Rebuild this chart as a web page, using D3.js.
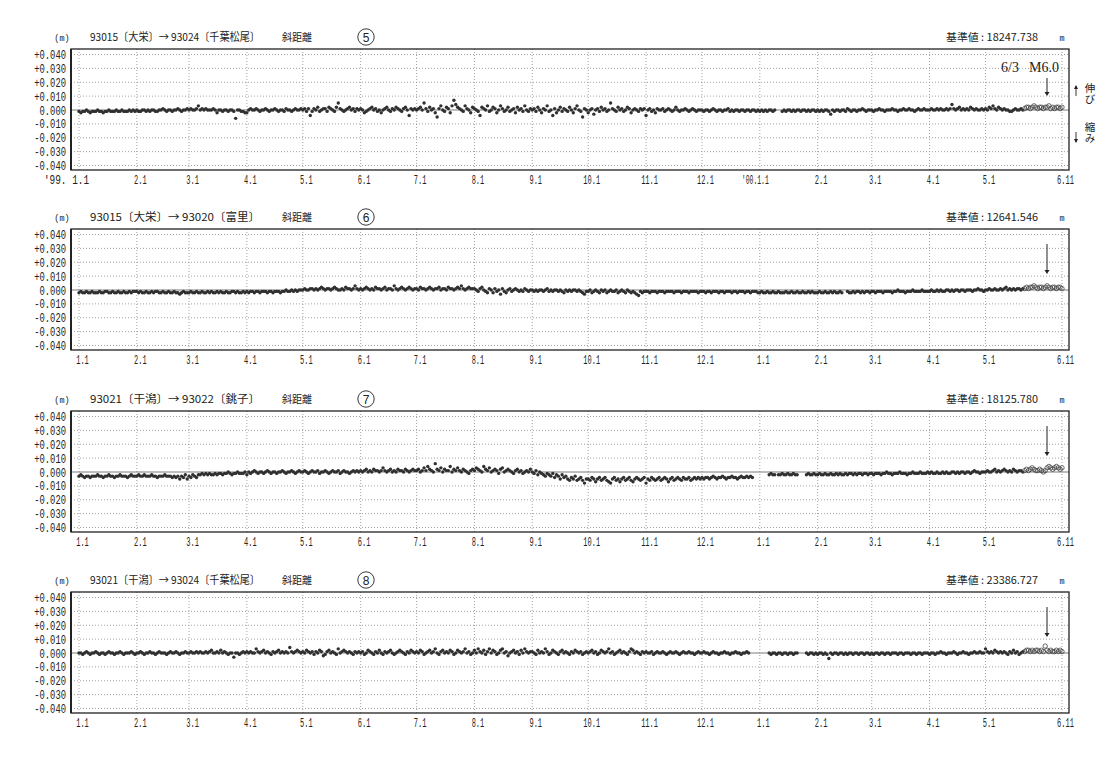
<!DOCTYPE html>
<html><head><meta charset="utf-8">
<script src="https://cdn.jsdelivr.net/npm/d3@7/dist/d3.min.js"></script>
<style>body{margin:0;background:#fff}svg{display:block}</style>
</head><body>
<svg id="chart" width="1119" height="777"></svg>
<script>
// ---------- DATA (daily slope-distance change in mm, one array per month, Jan 1999 .. May 21 2000) ----------
const p5 = [
[-1,-2,-1,-1,0,-1,-2,-1,-1,-1,0,-1,-1,-2,-1,-1,0,-1,-1,-1,0,-1,-1,0,-1,-1,-1,0,-1,0,-1],
[0,-1,-1,0,0,-1,0,-1,0,0,-1,-1,0,0,1,0,-1,0,0,-1,0,0,1,0,-1,0,0,1],
[0,1,0,0,1,3,0,1,0,1,0,0,0,1,0,-2,0,0,-1,0,0,-1,0,0,-1,-6,0,0,-1,-1,-2],
[-2,0,1,0,0,1,0,-1,0,0,1,0,-1,0,0,1,0,-1,0,0,-1,1,0,0,-1,0,1,0,0,1],
[0,1,-1,1,-4,-1,1,0,2,-1,0,1,1,-1,2,1,0,-1,2,5,1,0,-1,0,1,2,0,1,-1,1,0],
[1,0,-2,-1,0,1,2,0,1,-1,0,-2,0,1,2,0,-1,1,0,2,1,0,-1,1,2,0,-4,1,0,1],
[0,1,2,0,5,1,-1,2,0,1,-2,-5,1,3,0,-1,2,1,-2,3,7,4,2,1,0,-1,3,1,0,-2,2],
[1,0,-1,-4,2,1,0,3,-1,0,2,1,-2,0,3,1,-1,0,2,-1,0,1,-2,2,0,1,-1,3,0,-1,1],
[0,1,-1,2,0,-2,1,0,3,-1,0,-4,1,-2,0,2,-1,1,0,-1,2,0,-2,1,3,0,-1,-5,1,0],
[-2,0,1,-3,0,1,-1,2,0,1,-1,0,5,1,0,-1,2,0,1,-1,0,2,1,-2,0,1,0,-1,1,0,1],
[-4,0,1,-1,0,-2,1,0,0,1,-1,0,1,0,-1,0,2,0,-1,0,0,1,0,-1,0,1,0,-1,0,0],
[0,-1,0,0,-1,0,1,0,-1,0,0,-1,0,0,1,-1,0,-1,0,0,-1,0,0,-1,0,0,-1,0,0,-1,0],
[-1,0,-1,0,-1,0,0,-1,0,null,null,null,-1,0,-1,0,0,-1,0,-1,0,0,-1,0,0,-1,0,-1,0,0,-1],
[0,-1,0,-1,0,0,-1,-3,0,-1,0,0,-1,0,0,-1,1,0,-1,0,0,-1,0,0,1,0,-1,0,0],
[0,-1,0,0,1,0,0,-1,0,0,0,1,0,0,-1,0,0,1,0,0,1,0,0,-1,0,1,0,0,1,0,0],
[0,1,0,0,1,0,1,0,0,1,0,1,4,1,0,1,2,0,1,0,1,0,2,1,0,1,0,0,1,0],
[1,0,2,1,3,1,0,2,1,0,1,0,0,-1,-1,0,1,0,0,1,0]
];
const p6 = [
[-2,-1,-2,-2,-1,-2,-2,-1,-2,-2,-2,-1,-2,-2,-1,-1,-2,-2,-1,-2,-2,-1,-2,-2,-1,-2,-2,-1,-2,-1,-1],
[-1,-2,-1,-2,-2,-1,-2,-2,-1,-2,-1,-1,-2,-2,-1,-2,-2,-1,-2,-2,-1,-2,-2,-3,-2,-1,-2,-2],
[-2,-1,-2,-2,-1,-2,-2,-1,-2,-2,-1,-2,-1,-2,-2,-1,-2,-1,-2,-2,-1,-2,-2,-1,-1,-2,-1,-2,-2,-1,-2],
[-1,-2,-1,-1,-2,-1,-1,-2,-1,-1,-1,-2,-1,-1,-2,-1,-1,-1,-2,-1,-1,0,-1,-1,0,-1,0,-1,0,0],
[0,1,0,0,1,1,0,1,0,1,2,1,0,1,1,0,1,2,1,0,0,1,0,2,1,1,0,1,3,1,0],
[1,0,1,2,1,0,1,0,2,1,1,0,1,2,0,1,1,0,3,1,0,1,2,1,0,1,2,1,0,1],
[1,0,2,1,1,0,1,2,1,0,1,1,2,0,1,1,0,2,1,1,0,1,2,1,3,1,0,1,2,1,1],
[1,0,-1,1,2,0,-1,-2,1,0,-2,1,-1,0,-3,1,-1,-2,0,1,-1,0,1,0,-1,0,-1,1,0,-1,0],
[0,-1,0,-1,0,0,-1,0,1,-1,0,-1,0,0,-1,0,-1,-2,0,-1,0,-1,0,0,-1,0,-1,-2,-3,-1],
[-1,0,-2,-1,0,-1,-2,0,-1,0,-2,-1,0,-1,-1,0,-2,-1,0,-1,-2,0,-1,-2,-1,-2,-3,-4,-1,-2,-1],
[-1,-1,-2,-1,-1,-1,-2,-1,-1,-1,-2,-1,-1,-1,-1,-2,-1,-1,-1,-2,-1,-1,-1,-2,-1,-1,-1,-1,-2,-1],
[-1,-1,-2,-1,-1,-2,-1,-1,-1,-2,-1,-1,-2,-1,-1,-1,-2,-1,-1,-2,-1,-1,-1,-2,-1,-1,-2,-1,-1,-1,-2],
[-2,-1,-2,-2,-1,-2,-2,-1,-2,-2,-1,-2,-2,-2,-1,-2,-2,-1,-2,-2,-1,-2,-2,-1,-2,-2,-1,-2,-1,-2,-2],
[-2,-1,-2,-2,-1,-2,-2,-1,-2,-1,-2,-2,-1,-2,null,null,-1,-2,-2,-1,-2,-1,-1,-2,-1,-2,-1,-1,-2],
[-1,-1,-2,-1,-1,-1,-2,-1,-1,-1,-1,-2,-1,-1,0,-1,-1,-1,-2,-1,-1,-1,0,-1,-1,-1,-1,0,-1,-1,-1],
[-1,0,-1,-1,0,-1,0,-1,-1,0,0,-1,0,-1,0,0,-1,0,0,-1,0,0,0,-1,0,0,1,0,0,-1],
[0,0,1,0,0,1,0,0,1,0,1,2,0,1,0,1,0,1,1,0,1]
];
const p7 = [
[-3,-2,-3,-4,-3,-3,-4,-3,-3,-3,-2,-3,-3,-4,-3,-3,-2,-3,-3,-4,-3,-3,-2,-3,-3,-3,-4,-3,-2,-3,-3],
[-3,-2,-3,-3,-2,-3,-3,-3,-2,-3,-3,-4,-3,-3,-3,-2,-3,-3,-3,-4,-3,-4,-3,-5,-3,-4,-2,-5],
[-3,-4,-2,-3,-4,-2,-2,-1,-2,-1,-2,-1,-2,-2,-1,-2,-1,-1,-2,-1,-1,0,-1,-2,-1,-1,0,-1,-1,-1,0],
[-2,0,-1,0,1,0,-1,0,0,-1,0,1,0,-1,0,0,-1,0,0,1,0,-1,0,0,1,0,-1,0,1,0],
[0,1,0,-1,0,1,0,0,1,-1,0,0,1,0,-1,0,1,0,0,1,-1,0,1,0,0,-1,0,1,0,1,0],
[1,0,1,2,0,1,0,2,1,1,0,1,3,1,0,1,2,0,1,0,2,1,1,0,2,1,0,1,2,1],
[1,2,0,1,3,1,4,2,1,0,6,2,1,3,0,2,1,1,4,0,2,1,3,1,0,2,1,0,-1,1,2],
[1,3,2,1,0,4,2,1,3,0,1,2,1,-1,2,3,0,1,2,1,0,-1,1,2,0,1,-1,0,1,0,2],
[0,-1,1,-2,0,-1,-2,-3,-1,-2,-3,-1,-4,-2,-3,-5,-2,-4,-3,-5,-6,-4,-5,-3,-6,-5,-4,-6,-8,-5],
[-5,-6,-4,-5,-7,-5,-4,-6,-5,-4,-6,-7,-8,-5,-4,-6,-5,-7,-5,-4,-6,-5,-4,-6,-7,-5,-4,-5,-6,-5,-4],
[-8,-5,-6,-4,-5,-6,-5,-4,-6,-5,-4,-5,-7,-5,-4,-6,-5,-4,-5,-6,-4,-5,-5,-4,-6,-5,-4,-5,-4,-5],
[-4,-5,-4,-4,-5,-4,-3,-4,-5,-4,-4,-3,-4,-5,-4,-4,-3,-4,-4,-5,-4,-3,-4,-4,-3,-4,-3,-4,null,null,null],
[null,null,null,null,null,-2,-1,-2,-2,null,-2,-2,-1,-2,-2,-1,-2,-2,-1,-2,-2,null,null,null,null,-2,-1,-2,-2,-1,-2],
[-2,-1,-2,-2,-1,-2,-2,-1,-2,-2,-1,-2,-1,-2,-2,-1,-2,-1,-1,-2,-1,-2,-1,-1,-2,-1,-1,-2,-1],
[-1,-2,-1,-1,-1,-2,-1,-1,0,-1,-1,-2,-1,-1,-1,0,-1,-1,-1,-2,-1,-1,0,-1,-1,-1,0,-1,-1,-1,0],
[-1,0,-1,-1,0,-1,-1,0,-1,0,-1,-1,0,0,-1,0,-1,0,0,-1,0,0,-1,0,1,0,0,-1,0,0],
[0,1,0,0,1,2,0,1,0,1,2,1,0,1,0,2,1,0,1,1,0]
];
const p8 = [
[0,0,-1,0,1,0,-1,0,0,1,0,-1,0,0,-1,0,1,0,0,-1,0,0,1,0,-1,0,0,0,1,0,-1],
[0,0,1,0,-1,0,0,1,0,0,-1,0,1,0,0,0,-1,0,1,0,0,1,0,-1,0,0,1,0],
[0,1,0,0,1,0,1,0,0,1,0,1,2,0,0,1,0,2,0,1,0,-1,0,0,-3,0,0,-1,0,1,0],
[1,0,1,0,0,3,1,0,1,2,0,1,0,-1,1,0,1,2,0,1,0,1,0,4,1,0,1,2,1,0],
[1,0,2,1,0,1,-1,1,0,2,1,-2,-1,1,2,0,1,0,-1,3,0,1,2,1,0,1,0,-1,1,0,1],
[0,1,-1,0,2,1,0,-1,1,0,2,0,-1,1,0,1,2,0,-1,0,1,2,1,0,-1,1,0,2,1,0],
[1,0,2,1,-1,0,1,2,0,1,3,0,-1,1,2,0,1,0,2,1,-1,0,2,1,0,1,3,0,1,-1,0],
[2,0,3,1,0,2,-1,1,3,0,2,1,-1,0,2,3,0,1,-2,0,1,2,0,1,-1,2,0,3,1,0,1],
[1,0,-1,2,0,1,0,3,1,-1,0,2,1,0,-1,1,2,0,1,0,-1,1,0,2,1,0,1,-1,0,1],
[0,1,2,0,1,-1,0,2,1,0,1,3,0,1,-1,0,1,2,0,1,0,-1,1,3,2,0,1,0,-1,1,0],
[1,0,0,1,-1,0,1,0,0,1,0,-1,0,1,0,0,1,0,-1,0,1,0,0,1,0,0,-1,0,1,0],
[0,1,0,0,-1,0,1,0,0,-1,0,0,1,0,0,-1,0,0,1,0,0,-1,0,0,1,0,null,null,null,null,null],
[null,null,null,null,null,0,-1,0,0,-1,0,0,-1,0,0,-1,0,0,-1,0,0,null,null,null,null,0,-1,0,0,-1,0],
[-1,0,0,-1,0,-1,-4,0,-1,0,0,-1,0,0,-1,0,-1,0,0,-1,0,0,-1,0,0,-1,0,0,-1],
[0,-1,0,0,-1,0,0,-1,0,0,-1,0,0,0,-1,0,0,-1,0,0,0,-1,0,0,-1,0,0,-1,0,0,0],
[-1,0,0,-1,0,0,1,0,0,-1,0,0,0,1,0,-1,0,0,1,0,0,-1,0,0,1,0,0,1,0,0],
[3,1,0,1,0,2,1,0,1,0,1,0,-1,1,0,2,0,1,-1,0,1]
];
// open circles: May 22 .. Jun 11, 2000 (mm)
const o5 = [1,2,2,1,2,3,2,1,2,2,1,2,2,3,1,2,1,2,2,1,2];
const o6 = [1,2,1,2,2,3,2,1,2,2,1,2,3,2,1,2,2,1,2,2,1];
const o7 = [1,2,1,2,3,2,1,1,2,1,0,1,3,4,3,2,3,4,3,2,3];
const o8 = [1,2,2,1,2,1,2,2,1,2,1,5,2,1,2,1,1,2,1,2,1];

const panelTitles = ["93015〔大栄〕→ 93024〔千葉松尾〕","93015〔大栄〕→ 93020〔富里〕","93021〔干潟〕→ 93022〔銚子〕","93021〔干潟〕→ 93024〔千葉松尾〕"];
const panelNumbers = ["5","6","7","8"];
const baseValues = ["18247.738","12641.546","18125.780","23386.727"];
const yTicks = [0.04,0.03,0.02,0.01,0,-0.01,-0.02,-0.03,-0.04];
const yTickLabels = ["+0.040","+0.030","+0.020","+0.010","0.000","-0.010","-0.020","-0.030","-0.040"];
const xTickLabels = ["1.1","2.1","3.1","4.1","5.1","6.1","7.1","8.1","9.1","10.1","11.1","12.1","1.1","2.1","3.1","4.1","5.1","6.11"];
const xTickLabelsTop = ["'99. 1.1","2.1","3.1","4.1","5.1","6.1","7.1","8.1","9.1","10.1","11.1","12.1","'00.1.1","2.1","3.1","4.1","5.1","6.11"];

// ---------- LAYOUT ----------
const svg = d3.select("#chart");
const X0 = 71, X1 = 1069;
const zeros = [110, 290, 472, 653];
const filled = [p5,p6,p7,p8], opens = [o5,o6,o7,o8];
const start = new Date(Date.UTC(1999,0,1)), end = new Date(Date.UTC(2000,5,11));
const x = d3.scaleUtc().domain([start, end]).range([79, 1062]);
const monthStarts = d3.utcMonth.range(start, new Date(Date.UTC(2000,5,1)));
const xTickDates = monthStarts.concat([end]);
const openStart = new Date(Date.UTC(2000,4,22));
const ink = "#222";
const monoFont = "Liberation Mono, DejaVu Sans Mono, monospace";

function fitText(sel, perChar){ sel.attr("textLength", function(){return this.textContent.length*perChar;}).attr("lengthAdjust","spacingAndGlyphs"); }

filled.forEach((months, pi) => {
  const z = zeros[pi];
  const y = d3.scaleLinear().domain([-0.04, 0.04]).range([z+55.5, z-55.5]);
  const g = svg.append("g");
  // grid
  g.selectAll(".hg").data(yTicks.filter(t=>t!==0)).join("line")
    .attr("x1",X0).attr("x2",X1).attr("y1",d=>y(d)).attr("y2",d=>y(d))
    .attr("stroke","#8a8a8a").attr("stroke-width",0.8).attr("stroke-dasharray","1,2");
  g.selectAll(".vg").data(xTickDates).join("line")
    .attr("x1",d=>x(d)).attr("x2",d=>x(d)).attr("y1",z-61).attr("y2",z+60)
    .attr("stroke","#8a8a8a").attr("stroke-width",0.8).attr("stroke-dasharray","1,2");
  g.append("line").attr("x1",X0).attr("x2",X1).attr("y1",y(0)).attr("y2",y(0))
    .attr("stroke","#7a7a7a").attr("stroke-width",1);
  // data
  const pts = [];
  months.forEach((arr, mi) => arr.forEach((v, di) => {
    if (v === null) return;
    pts.push({date: d3.utcDay.offset(monthStarts[mi], di), v: v/1000});
  }));
  g.selectAll(".dot").data(pts).join("circle")
    .attr("cx",d=>x(d.date)).attr("cy",d=>y(d.v)).attr("r",1.7).attr("fill","#303030");
  const ops = opens[pi].map((v,i)=>({date: d3.utcDay.offset(openStart, i), v: v/1000}));
  g.selectAll(".odot").data(ops).join("circle")
    .attr("cx",d=>x(d.date)).attr("cy",d=>y(d.v)).attr("r",2.2)
    .attr("fill","none").attr("stroke","#444").attr("stroke-width",0.8);
  // frame
  g.append("rect").attr("x",X0).attr("y",z-61).attr("width",X1-X0).attr("height",121)
    .attr("fill","none").attr("stroke",ink).attr("stroke-width",1.3);
  g.append("line").attr("x1",X0).attr("x2",X0).attr("y1",z-61).attr("y2",z+60).attr("stroke",ink).attr("stroke-width",2);
  // y axis
  const ya = g.append("g").attr("transform",`translate(${X0},0)`)
    .call(d3.axisLeft(y).tickValues(yTicks).tickFormat((d,i)=>yTickLabels[i]).tickSize(0).tickPadding(5));
  ya.select(".domain").remove();
  ya.selectAll("text").attr("font-family",monoFont).attr("font-size",12.5).attr("fill",ink);
  fitText(ya.selectAll("text"), 5.3);
  // x axis
  const labels = pi === 0 ? xTickLabelsTop : xTickLabels;
  const xa = g.append("g").attr("transform",`translate(0,${z+60})`)
    .call(d3.axisBottom(x).tickValues(xTickDates).tickFormat((d,i)=>labels[i]).tickSize(0).tickPadding(5));
  xa.select(".domain").remove();
  xa.selectAll("text").attr("font-family",monoFont).attr("font-size",12).attr("fill",ink).attr("dx",3);
  fitText(xa.selectAll("text"), 4.2);
  if (pi === 0) {
    xa.selectAll("text").filter((d,i)=>i===0).attr("text-anchor","end").attr("dx",9.5).attr("textLength",45);
    xa.selectAll("text").filter((d,i)=>i===12).attr("text-anchor","end").attr("dx",8.5).attr("textLength",27);
  }
  // title row
  const ty = z - 69;
  g.append("text").attr("x",62).attr("y",ty).attr("text-anchor","middle")
    .attr("font-family",monoFont).attr("font-size",8.5).attr("fill",ink).text("(m)");
  g.append("text").attr("x",90).attr("y",ty).attr("font-family","Noto Sans CJK JP, sans-serif")
    .attr("font-size",11).attr("fill",ink).attr("textLength",170).attr("lengthAdjust","spacingAndGlyphs")
    .text(panelTitles[pi]);
  g.append("text").attr("x",282).attr("y",ty).attr("font-family","Noto Sans CJK JP, sans-serif")
    .attr("font-size",10).attr("fill",ink).text("斜距離");
  g.append("circle").attr("cx",366).attr("cy",z-73).attr("r",8.2).attr("fill","none").attr("stroke",ink).attr("stroke-width",0.9);
  g.append("text").attr("x",366).attr("y",z-68.5).attr("text-anchor","middle")
    .attr("font-family","Liberation Sans, sans-serif").attr("font-size",12).attr("fill",ink).text(panelNumbers[pi]);
  g.append("text").attr("x",946).attr("y",ty).attr("font-family","Noto Sans CJK JP, sans-serif")
    .attr("font-size",10.5).attr("fill",ink).attr("textLength",92).attr("lengthAdjust","spacingAndGlyphs")
    .text("基準値 : " + baseValues[pi]);
  g.append("text").attr("x",1062).attr("y",ty).attr("text-anchor","middle")
    .attr("font-family",monoFont).attr("font-size",8.5).attr("fill",ink).text("m");
  // earthquake arrow
  const a0 = pi === 0 ? z-32 : z-46, a1 = pi === 0 ? z-14 : z-16;
  g.append("line").attr("x1",1047).attr("x2",1047).attr("y1",a0).attr("y2",a1-3).attr("stroke",ink).attr("stroke-width",1);
  g.append("path").attr("d",`M1044.5,${a1-4}L1049.5,${a1-4}L1047,${a1}Z`).attr("fill",ink);
});

// annotations on first panel
const z0 = zeros[0];
svg.append("text").attr("x",1001).attr("y",z0-38).attr("font-family","Liberation Serif, serif")
  .attr("font-size",14).attr("fill",ink).text("6/3");
svg.append("text").attr("x",1029).attr("y",z0-38).attr("font-family","Liberation Serif, serif")
  .attr("font-size",14).attr("fill",ink).text("M6.0");
const side = [{t:"伸び",y:z0-27},{t:"縮み",y:z0+12}];
svg.selectAll(".side").data(side).join("text").attr("x",1090).attr("y",d=>d.y)
  .style("writing-mode","vertical-rl")
  .attr("font-family","Noto Sans CJK JP, sans-serif").attr("font-size",10.5).attr("fill",ink).text(d=>d.t);
// small up / down arrows
svg.append("line").attr("x1",1076).attr("x2",1076).attr("y1",z0-24).attr("y2",z0-14).attr("stroke",ink).attr("stroke-width",0.9);
svg.append("path").attr("d",`M1074,${z0-21}L1078,${z0-21}L1076,${z0-25}Z`).attr("fill",ink);
svg.append("line").attr("x1",1076).attr("x2",1076).attr("y1",z0+22).attr("y2",z0+32).attr("stroke",ink).attr("stroke-width",0.9);
svg.append("path").attr("d",`M1074,${z0+29}L1078,${z0+29}L1076,${z0+33}Z`).attr("fill",ink);
</script>
</body></html>
